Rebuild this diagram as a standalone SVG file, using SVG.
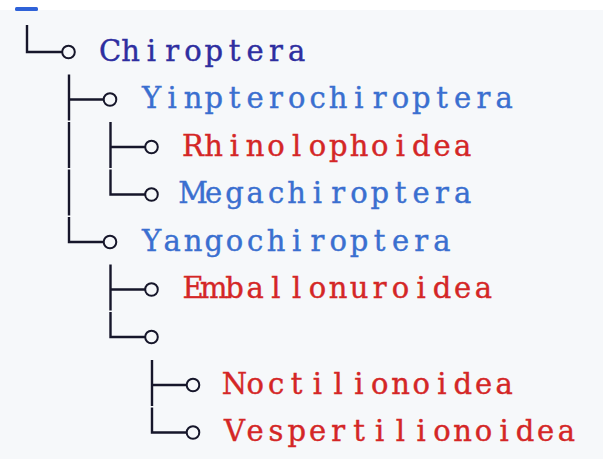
<svg xmlns="http://www.w3.org/2000/svg" width="603" height="459" viewBox="0 0 603 459">
  <style>
    .bg { fill: #f6f8fa; }
    /* one glyph per 20.75px cell, each glyph centred in its cell */
    .lbl { font-family: "DejaVu Serif", serif; font-size: 29px; text-anchor: middle; stroke-width: 0.4; }
    .root { fill: #2e2ea0; stroke: #2e2ea0; }
    .clade { fill: #3a6fd0; stroke: #3a6fd0; }
    .super { fill: #d42626; stroke: #d42626; }
    .edge { stroke: #16162a; stroke-width: 2.4; fill: none; }
    .knot { stroke: #16162a; stroke-width: 2; fill: none; }
  </style>

  <!-- page background -->
  <rect x="0" y="0" width="603" height="459" fill="#ffffff"/>
  <rect class="bg" x="0" y="10" width="603" height="449"/>
  <rect x="15" y="7" width="23" height="4" rx="1.5" fill="#2f62d8"/>

  <!-- tree connectors: vertical runs and elbows -->
  <g id="connectors">
    <!-- depth 0 -->
    <path class="edge" d="M27 25 V52 H62"/>
    <!-- depth 1 -->
    <path class="edge" d="M69 74.5 V120.5 M69 99.5 H103.5"/>
    <path class="edge" d="M69 122 V168"/>
    <path class="edge" d="M69 169.5 V215.5"/>
    <path class="edge" d="M69 217 V242 H103.5"/>
    <!-- depth 2 -->
    <path class="edge" d="M110.5 122 V168 M110.5 147 H145"/>
    <path class="edge" d="M110.5 169.5 V194.5 H145"/>
    <path class="edge" d="M110.5 264.5 V310.5 M110.5 289.5 H145"/>
    <path class="edge" d="M110.5 312 V337 H145"/>
    <!-- depth 3 -->
    <path class="edge" d="M152 360 V406 M152 385 H186.5"/>
    <path class="edge" d="M152 407.5 V432.5 H186.5"/>

    <!-- node markers -->
    <circle class="knot" cx="68.5" cy="52" r="6.3"/>
    <circle class="knot" cx="110" cy="99.5" r="6.3"/>
    <circle class="knot" cx="151.5" cy="147" r="6.3"/>
    <circle class="knot" cx="151.5" cy="194.5" r="6.3"/>
    <circle class="knot" cx="110" cy="242" r="6.3"/>
    <circle class="knot" cx="151.5" cy="289.5" r="6.3"/>
    <circle class="knot" cx="151.5" cy="337" r="6.3"/>
    <circle class="knot" cx="193" cy="385" r="6.3"/>
    <circle class="knot" cx="193" cy="432.5" r="6.3"/>
  </g>

  <!-- taxa -->
  <g id="chiroptera"><text class="lbl root" x="110 130.7 151.5 172.2 193 213.7 234.5 255.2 276 296.7" y="60.5">Chiroptera</text></g>
  <g id="yinpterochiroptera"><text class="lbl clade" x="151.5 172.2 193 213.7 234.5 255.2 276 296.7 317.5 338.2 359 379.7 400.5 421.2 442 462.7 483.5 504.2" y="108">Yinpterochiroptera</text></g>
  <g id="rhinolophoidea"><text class="lbl super" x="193 213.7 234.5 255.2 276 296.7 317.5 338.2 359 379.7 400.5 421.2 442 462.7" y="155.5">Rhinolophoidea</text></g>
  <g id="megachiroptera"><text class="lbl clade" x="193 213.7 234.5 255.2 276 296.7 317.5 338.2 359 379.7 400.5 421.2 442 462.7" y="203">Megachiroptera</text></g>
  <g id="yangochiroptera"><text class="lbl clade" x="151.5 172.2 193 213.7 234.5 255.2 276 296.7 317.5 338.2 359 379.7 400.5 421.2 442" y="250.5">Yangochiroptera</text></g>
  <g id="emballonuroidea"><text class="lbl super" x="193 213.7 234.5 255.2 276 296.7 317.5 338.2 359 379.7 400.5 421.2 442 462.7 483.5" y="298">Emballonuroidea</text></g>
  <g id="unnamed-node"></g>
  <g id="noctilionoidea"><text class="lbl super" x="234.5 255.2 276 296.7 317.5 338.2 359 379.7 400.5 421.2 442 462.7 483.5 504.2" y="393.5">Noctilionoidea</text></g>
  <g id="vespertilionoidea"><text class="lbl super" x="234.5 255.2 276 296.7 317.5 338.2 359 379.7 400.5 421.2 442 462.7 483.5 504.2 525 545.7 566.5" y="441">Vespertilionoidea</text></g>
</svg>
